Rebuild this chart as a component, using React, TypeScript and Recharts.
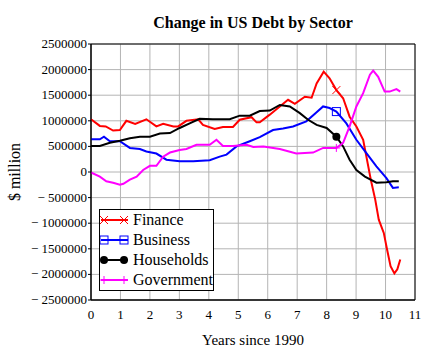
import type { ReactElement } from "react";
import {
  CartesianGrid,
  Line,
  LineChart,
  ReferenceArea,
  XAxis,
  YAxis,
} from "recharts";

const FONT = "Liberation Serif";

const X_TICKS = [0, 1, 2, 3, 4, 5, 6, 7, 8, 9, 10, 11];
const Y_TICKS = [
  -2500000, -2000000, -1500000, -1000000, -500000, 0, 500000, 1000000,
  1500000, 2000000, 2500000,
];

// every series shows its one marker at this year
const MARK_X = 8.33;

const financeYears = [
  0, 0.3, 0.5, 0.75, 0.98, 1.2, 1.5, 1.88, 2.22, 2.45, 2.8, 2.96, 3.24, 3.64,
  3.8, 4.2, 4.48, 4.82, 5.05, 5.45, 5.62, 5.73, 6.07, 6.41, 6.69, 6.92, 7.26,
  7.49, 7.66, 7.9, 8.1, 8.33, 8.56, 8.78, 9.01, 9.24, 9.35, 9.5, 9.65, 9.77,
  9.94, 10.05, 10.17, 10.3, 10.4, 10.5,
];
const financeValues = [
  1030000, 900000, 890000, 810000, 820000, 1000000, 940000, 1030000, 890000,
  940000, 890000, 890000, 1000000, 1030000, 920000, 840000, 880000, 880000,
  1020000, 1070000, 970000, 970000, 1120000, 1280000, 1410000, 1330000,
  1470000, 1450000, 1730000, 1960000, 1830000, 1600000, 1440000, 1080000,
  890000, 630000, 300000, -150000, -540000, -930000, -1190000, -1510000,
  -1840000, -1980000, -1900000, -1710000,
];

const businessYears = [
  0, 0.3, 0.44, 0.64, 0.98, 1.32, 1.66, 1.88, 2.22, 2.56, 3.01, 3.47, 4.03,
  4.37, 4.6, 4.94, 5.39, 5.73, 6.18, 6.52, 6.86, 7.31, 7.65, 7.88, 8.1, 8.33,
  8.67, 9.01, 9.35, 9.69, 10.03, 10.25, 10.45,
];
const businessValues = [
  640000, 640000, 690000, 600000, 600000, 470000, 450000, 400000, 360000,
  240000, 210000, 210000, 230000, 300000, 340000, 500000, 600000, 680000,
  820000, 850000, 890000, 990000, 1160000, 1280000, 1250000, 1180000, 950000,
  630000, 370000, 110000, -120000, -310000, -300000,
];

const householdYears = [
  0, 0.3, 0.64, 0.98, 1.32, 1.66, 2.0, 2.34, 2.68, 3.01, 3.35, 3.69, 4.14,
  4.71, 5.05, 5.39, 5.73, 6.07, 6.41, 6.75, 7.09, 7.37, 7.66, 8.0, 8.33, 8.56,
  8.78, 9.01, 9.3, 9.69, 10.03, 10.25, 10.45,
];
const householdValues = [
  510000, 510000, 570000, 610000, 660000, 690000, 690000, 750000, 760000,
  860000, 950000, 1040000, 1030000, 1030000, 1100000, 1100000, 1190000,
  1200000, 1310000, 1280000, 1150000, 1020000, 920000, 860000, 690000, 500000,
  240000, 40000, -90000, -210000, -200000, -180000, -180000,
];

const governmentYears = [
  0, 0.3, 0.52, 0.75, 0.98, 1.1, 1.32, 1.55, 1.77, 2.0, 2.22, 2.45, 2.68,
  3.01, 3.24, 3.58, 4.03, 4.26, 4.48, 4.82, 5.28, 5.51, 5.85, 6.41, 6.97,
  7.54, 7.88, 8.33, 8.56, 8.78, 9.01, 9.24, 9.47, 9.58, 9.75, 9.97, 10.14,
  10.37, 10.5,
];
const governmentValues = [
  -10000, -90000, -180000, -210000, -250000, -230000, -150000, -90000, 40000,
  120000, 120000, 300000, 380000, 430000, 450000, 530000, 530000, 630000,
  510000, 510000, 530000, 490000, 500000, 450000, 360000, 380000, 470000,
  470000, 570000, 890000, 1280000, 1540000, 1900000, 1980000, 1860000,
  1570000, 1570000, 1620000, 1570000,
];

type Point = { x: number; y: number };
type MarkerKind = "cross" | "square" | "circle" | "plus";

function zip(xs: number[], ys: number[]): Point[] {
  return xs.map((x, i) => ({ x, y: ys[i] }));
}

const SERIES = [
  { name: "Finance", color: "#ff0000", marker: "cross" as MarkerKind, data: zip(financeYears, financeValues) },
  { name: "Business", color: "#0000ff", marker: "square" as MarkerKind, data: zip(businessYears, businessValues) },
  { name: "Households", color: "#000000", marker: "circle" as MarkerKind, data: zip(householdYears, householdValues) },
  { name: "Government", color: "#ff00ff", marker: "plus" as MarkerKind, data: zip(governmentYears, governmentValues) },
];

function Marker({ kind, cx, cy, color }: { kind: MarkerKind; cx: number; cy: number; color: string }) {
  const r = 4;
  if (kind === "cross") {
    return (
      <g stroke={color} strokeWidth={1}>
        <line x1={cx - r} y1={cy - r} x2={cx + r} y2={cy + r} />
        <line x1={cx - r} y1={cy + r} x2={cx + r} y2={cy - r} />
      </g>
    );
  }
  if (kind === "square") {
    return <rect x={cx - r} y={cy - r} width={2 * r} height={2 * r} fill="none" stroke={color} strokeWidth={1} />;
  }
  if (kind === "circle") {
    return <circle cx={cx} cy={cy} r={r} fill={color} />;
  }
  return (
    <g stroke={color} strokeWidth={1}>
      <line x1={cx - r} y1={cy} x2={cx + r} y2={cy} />
      <line x1={cx} y1={cy - r} x2={cx} y2={cy + r} />
    </g>
  );
}

function formatY(v: number) {
  return v < 0 ? `\u2212 ${Math.abs(v)}` : String(v);
}

function XTick({ x, y, payload }: any) {
  return (
    <text x={x} y={y + 11} textAnchor="middle" fontFamily={FONT} fontSize={13} fill="#000">
      {payload.value}
    </text>
  );
}

function YTick({ x, y, payload }: any) {
  return (
    <text x={x} y={y + 4} textAnchor="end" fontFamily={FONT} fontSize={13} fill="#000">
      {formatY(payload.value)}
    </text>
  );
}

function LegendBox(): ReactElement {
  return (
    <div
      style={{
        position: "absolute",
        left: 99,
        top: 209,
        width: 115,
        height: 82,
        border: "1px solid #000",
        background: "#fff",
        fontFamily: FONT,
        fontSize: 16,
        color: "#000",
        boxSizing: "border-box",
      }}
    >
      {SERIES.map((s) => (
        <div key={s.name} style={{ display: "flex", alignItems: "center", height: 20 }}>
          <svg width={33} height={14} style={{ display: "block" }}>
            <line x1={1} y1={7} x2={28} y2={7} stroke={s.color} strokeWidth={2} />
            <Marker kind={s.marker} cx={4} cy={7} color={s.color} />
            <Marker kind={s.marker} cx={24} cy={7} color={s.color} />
          </svg>
          <span style={{ lineHeight: "20px" }}>{s.name}</span>
        </div>
      ))}
    </div>
  );
}

export default function App() {
  return (
    <div style={{ position: "absolute", left: 0, top: 0, width: 439, height: 351, background: "#fff" }}>
      <div
        style={{
          position: "absolute",
          left: 91,
          top: 14,
          width: 324,
          textAlign: "center",
          fontFamily: FONT,
          fontWeight: "bold",
          fontSize: 16,
          lineHeight: "18px",
          color: "#000",
        }}
      >
        Change in US Debt by Sector
      </div>
      <LineChart
        width={439}
        height={351}
        margin={{ top: 44, right: 24, bottom: 4, left: 8 }}
        style={{ fontFamily: FONT }}
      >
        <CartesianGrid stroke="#b4b4b4" strokeWidth={1} />
        <XAxis
          dataKey="x"
          type="number"
          domain={[0, 11]}
          ticks={X_TICKS}
          interval={0}
          height={47}
          tickLine={false}
          tickMargin={2}
          axisLine={{ stroke: "#000" }}
          tick={<XTick />}
          allowDuplicatedCategory={false}
          label={{
            value: "Years since 1990",
            position: "insideBottom",
            offset: 2,
            style: { fill: "#000", fontSize: 15, fontFamily: FONT },
          }}
        />
        <YAxis
          type="number"
          domain={[-2500000, 2500000]}
          ticks={Y_TICKS}
          interval={0}
          width={83}
          tickSize={3}
          tickMargin={1}
          axisLine={{ stroke: "#000" }}
          tickLine={{ stroke: "#000" }}
          tick={<YTick />}
          label={{
            value: "$ million",
            angle: -90,
            position: "insideLeft",
            offset: 6,
            style: { fill: "#000", fontSize: 16, fontFamily: FONT, textAnchor: "middle" },
          }}
        />
        <ReferenceArea
          x1={0}
          x2={11}
          y1={-2500000}
          y2={2500000}
          fill="none"
          fillOpacity={0}
          stroke="#000"
          strokeWidth={1}
          ifOverflow="visible"
        />
        {SERIES.map((s) => (
          <Line
            key={s.name}
            data={s.data}
            dataKey="y"
            name={s.name}
            type="linear"
            stroke={s.color}
            strokeWidth={2}
            isAnimationActive={false}
            activeDot={false}
            dot={(props: any) =>
              props.payload && props.payload.x === MARK_X ? (
                <Marker key={`${s.name}-dot`} kind={s.marker} cx={props.cx} cy={props.cy} color={s.color} />
              ) : (
                <g key={`${s.name}-${props.index}`} />
              )
            }
          />
        ))}
      </LineChart>
      <LegendBox />
    </div>
  );
}
